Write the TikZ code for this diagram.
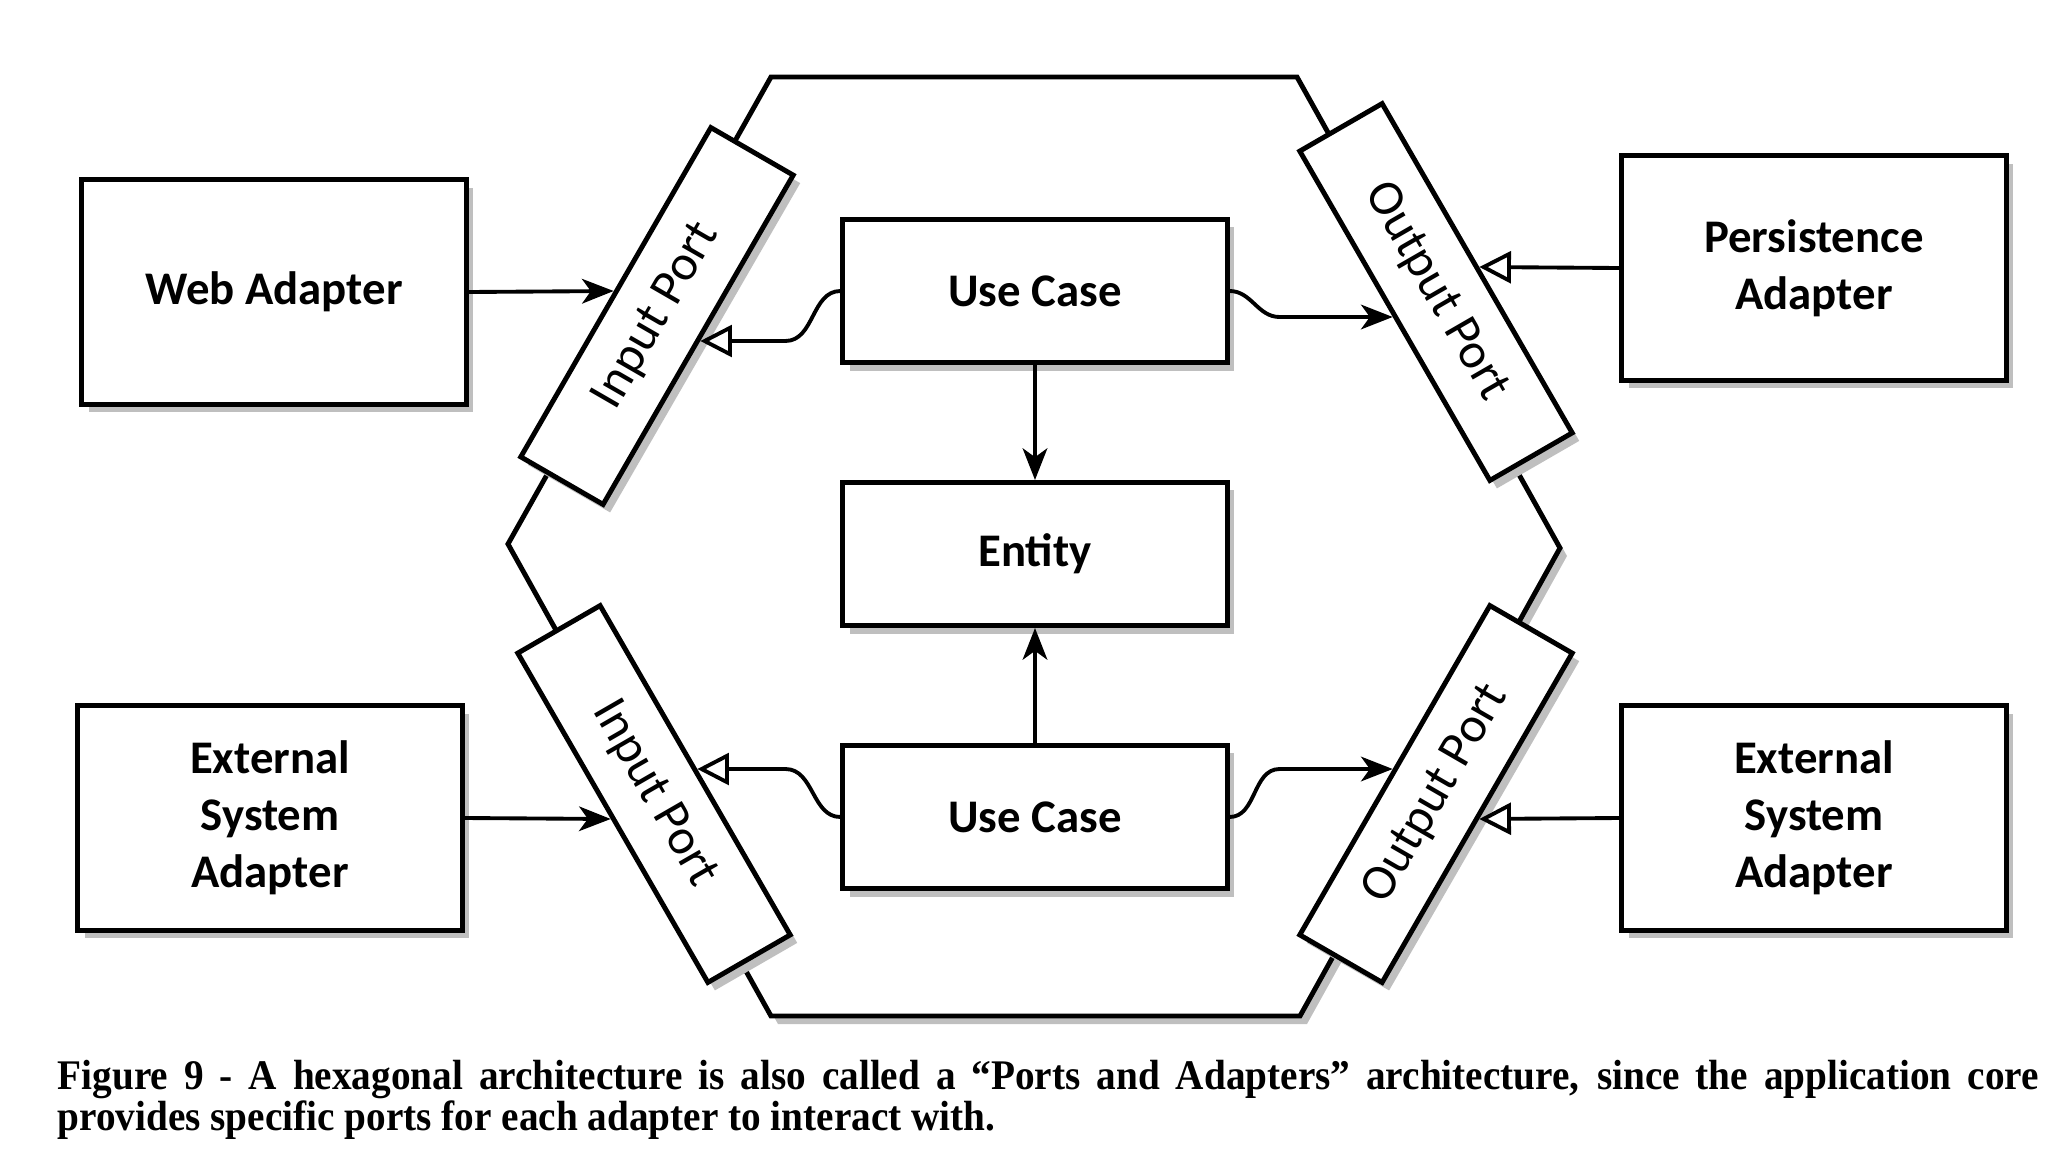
\documentclass[tikz,border=0pt]{standalone}
\usepackage{fontspec}
\usepackage{xcolor}
\usetikzlibrary{arrows.meta,shadows,calc}
\newfontfamily\boxfont{Carlito}
\newfontfamily\capfont{Liberation Serif}[FakeStretch=0.93]

\begin{document}
\begin{tikzpicture}[x=0.01cm, y=-0.01cm,
  every node/.style={font=\boxfont\bfseries\fontsize{13.3}{16.2}\selectfont},
  box/.style={draw=black, line width=1.4pt, fill=white, align=center, inner sep=0pt,
    minimum width=3.84cm, minimum height=2.24cm,
    drop shadow={shadow xshift=0.07cm, shadow yshift=-0.08cm, fill=black!25, opacity=1}},
  core/.style={box, minimum height=1.43cm},
  port/.style={box, minimum width=3.8cm, minimum height=0.95cm,
    font=\boxfont\fontsize{14.3}{17}\selectfont},
  arr/.style={line width=1.1pt, -{Stealth[length=9pt, width=7pt, inset=2.5pt]}},
  oarr/.style={line width=1.1pt, -{Triangle[open, length=9pt, width=9pt, fill=white]}}]
\useasboundingbox (0,0) rectangle (2068,1160);
% hexagon
\draw[line width=1.4pt, fill=white,
  drop shadow={shadow xshift=0.07cm, shadow yshift=-0.08cm, fill=black!25, opacity=1}]
  (771,77) -- (1297,77) -- (1560,548) -- (1300,1016) -- (771,1016) -- (508,544) -- cycle;
% ports
\node[port, rotate=60] (inTop) at (657,316) {Input Port};
\node[port, rotate=-60] (inBot) at (654,794) {Input Port};
\node[port, rotate=-60] (outTop) at (1436,292) {Output Port};
\node[port, rotate=60] (outBot) at (1436,794) {Output Port};
% adapters
\node[box] (web) at (274,292) {Web Adapter};
\node[box] (extL) at (270,818) {External\\System\\Adapter};
\node[box] (persist) at (1814,268) {Persistence\\Adapter};
\node[box] (extR) at (1814,818) {External\\System\\Adapter};
% core
\node[core] (useTop) at (1035,291) {Use Case};
\node[core] (entity) at (1035,554) {Entity};
\node[core] (useBot) at (1035,817) {Use Case};
% connectors
\draw[arr] (web.east) -- (inTop.north);
\draw[arr] (extL.east) -- (inBot.south);
\draw[oarr] (persist.west) -- (outTop.north);
\draw[oarr] (extR.west) -- (outBot.south);
\draw[arr] (useTop.south) -- (entity.north);
\draw[arr] (useBot.north) -- (entity.south);
\draw[oarr] (useTop.west) to[out=180, in=0] ($(useTop.west |- inTop.south)+(-55,0)$) -- (inTop.south);
\draw[arr] (useTop.east) to[out=0, in=180] ($(useTop.east |- outTop.south)+(50,0)$) -- (outTop.south);
\draw[oarr] (useBot.west) to[out=180, in=0] ($(useBot.west |- inBot.north)+(-55,0)$) -- (inBot.north);
\draw[arr] (useBot.east) to[out=0, in=180] ($(useBot.east |- outBot.north)+(50,0)$) -- (outBot.north);
% caption
\node[anchor=north west, inner sep=0pt, text width=19.8cm, align=justify,
  font=\capfont\bfseries\fontsize{12}{11.4}\selectfont] (caption) at (57,1060)
  {Figure 9 - A hexagonal architecture is also called a “Ports and Adapters” architecture, since the application core\linebreak provides specific ports for each adapter to interact with.};
\end{tikzpicture}
\end{document}
